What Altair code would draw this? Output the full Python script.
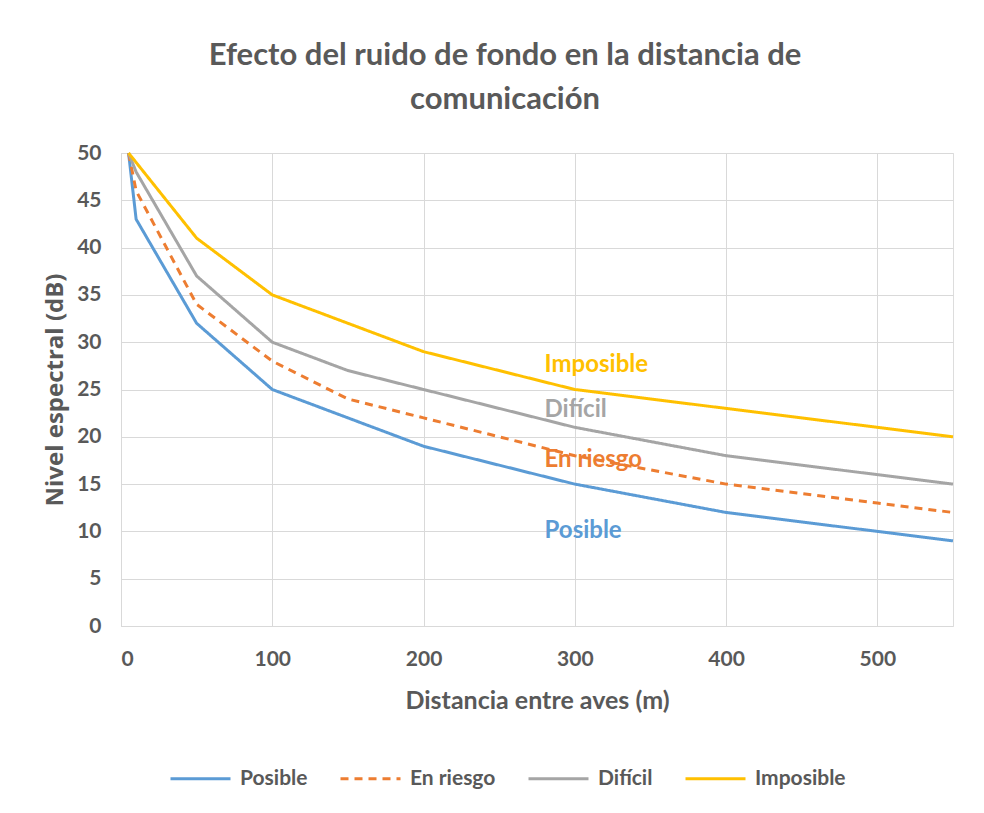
import altair as alt
import pandas as pd

# Data
distancia = [5, 10, 50, 100, 150, 200, 300, 400, 500, 550]
posible = [50, 43, 32, 25, 22, 19, 15, 12, 10, 9]
en_riesgo = [50, 46, 34, 28, 24, 22, 18, 15, 13, 12]
dificil = [50, 48, 37, 30, 27, 25, 21, 18, 16, 15]
imposible = [50, 49, 41, 35, 32, 29, 25, 23, 21, 20]

series_names = ["Posible", "En riesgo", "Difícil", "Imposible"]
series_colors = ["#5B9BD5", "#ED7D31", "#A5A5A5", "#FFC000"]
series_dash = [[1, 0], [8, 6], [1, 0], [1, 0]]

label_text = ["Imposible", "Difícil", "En riesgo", "Posible"]
label_x = [280, 280, 280, 280]
label_y = [27.6, 22.8, 17.6, 10.0]
label_colors = ["#FFC000", "#A5A5A5", "#ED7D31", "#5B9BD5"]

x_ticks = [0, 100, 200, 300, 400, 500]
y_ticks = list(range(0, 51, 5))

rows = []
for name, vals in zip(series_names, [posible, en_riesgo, dificil, imposible]):
    for d, v in zip(distancia, vals):
        rows.append({"serie": name, "x": d, "y": v})
df = pd.DataFrame(rows)

labels_df = pd.DataFrame({"t": label_text, "x": label_x, "y": label_y, "c": label_colors})

FONT = "Lato"
GREY = "#595959"

x_enc = alt.X(
    "x:Q",
    scale=alt.Scale(domain=[0, 550], nice=False),
    axis=alt.Axis(
        title="Distancia entre aves (m)",
        values=x_ticks,
        grid=True,
        gridColor="#D9D9D9",
        domain=False,
        ticks=False,
        labelFont=FONT,
        labelFontSize=21,
        labelFontWeight="bold",
        labelColor=GREY,
        labelPadding=22,
        titleFont=FONT,
        titleFontSize=25,
        titleFontWeight="bold",
        titleColor=GREY,
        titlePadding=19,
    ),
)
y_enc = alt.Y(
    "y:Q",
    scale=alt.Scale(domain=[0, 50], nice=False),
    axis=alt.Axis(
        title="Nivel espectral (dB)",
        values=y_ticks,
        grid=True,
        gridColor="#D9D9D9",
        domain=True,
        domainColor="#D9D9D9",
        ticks=False,
        labelFont=FONT,
        labelFontSize=21,
        labelFontWeight="bold",
        labelColor=GREY,
        labelPadding=20,
        titleFont="Open Sans",
        titleFontSize=24,
        titleFontWeight="bold",
        titleColor=GREY,
        titlePadding=9,
    ),
)

legend_cfg = dict(
    title=None,
    orient="none",
    legendX=48,
    legendY=594,
    direction="horizontal",
    symbolType="stroke",
    symbolSize=3600,
    symbolStrokeWidth=3,
    labelFont=FONT,
    labelFontSize=21,
    labelFontWeight="bold",
    labelColor=GREY,
    labelOffset=8,
    columnPadding=26,
)

lines = alt.Chart(df).mark_line(strokeWidth=3).encode(
    x=x_enc,
    y=y_enc,
    color=alt.Color(
        "serie:N",
        scale=alt.Scale(domain=series_names, range=series_colors),
        sort=series_names,
        legend=alt.Legend(**legend_cfg),
    ),
    strokeDash=alt.StrokeDash(
        "serie:N",
        scale=alt.Scale(domain=series_names, range=series_dash),
        sort=series_names,
        legend=alt.Legend(**legend_cfg),
    ),
    detail="serie:N",
)

texts = alt.Chart(labels_df).mark_text(
    align="left", baseline="middle", font=FONT, fontSize=24, fontWeight="bold"
).encode(
    x="x:Q",
    y="y:Q",
    text="t:N",
    color=alt.Color("c:N", scale=None),
)

chart = (
    alt.layer(lines, texts)
    .properties(
        width=832,
        height=473,
        title=alt.TitleParams(
            text=["Efecto del ruido de fondo en la distancia de", "comunicación"],
            font=FONT,
            fontSize=31,
            fontWeight="bold",
            color=GREY,
            anchor="middle",
            dx=-32,
            offset=26,
            lineHeight=44,
        ),
        autosize=alt.AutoSizeParams(type="none"),
        padding={"left": 113, "top": 145, "right": 23, "bottom": 179},
    )
    .configure_view(stroke=None)
    .configure(background="white")
)

chart.save("out.html", embed_options={"renderer": "svg", "actions": False})
